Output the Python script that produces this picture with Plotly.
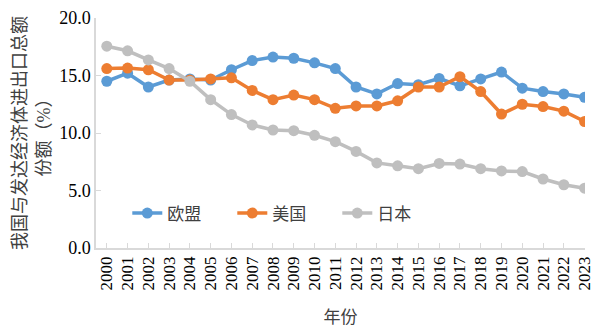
import plotly.graph_objects as go

years = [str(y) for y in range(2000, 2024)]
eu = [14.5, 15.2, 14.0, 14.6, 14.7, 14.6, 15.5, 16.3, 16.6, 16.5, 16.1, 15.6,
      14.0, 13.4, 14.3, 14.2, 14.75, 14.1, 14.7, 15.3, 13.9, 13.6, 13.4, 13.1]
us = [15.6, 15.65, 15.5, 14.6, 14.6, 14.7, 14.8, 13.7, 12.9, 13.3, 12.9, 12.15,
      12.35, 12.35, 12.8, 14.0, 14.0, 14.9, 13.6, 11.65, 12.5, 12.3, 11.9, 11.0]
jp = [17.55, 17.15, 16.35, 15.6, 14.5, 12.9, 11.6, 10.7, 10.26, 10.2, 9.8, 9.25,
      8.4, 7.4, 7.15, 6.9, 7.35, 7.3, 6.9, 6.7, 6.65, 6.0, 5.5, 5.2]
names = ["欧盟", "美国", "日本"]
colors = ["#5B9BD5", "#ED7D31", "#BFBFBF"]
yticks = [0, 5, 10, 15, 20]
ytext = ["0.0", "5.0", "10.0", "15.0", "20.0"]

FONT = "'Liberation Serif', 'Noto Sans CJK SC', serif"
NUMFONT = "'Liberation Serif', 'Times New Roman', serif"

fig = go.Figure()
for name, vals, col in zip(names, [eu, us, jp], colors):
    fig.add_trace(go.Scatter(
        x=years, y=vals, name=name, mode="lines+markers",
        line=dict(color=col, width=3.5),
        marker=dict(color=col, size=11),
    ))

fig.update_layout(
    width=613, height=334,
    margin=dict(l=96, r=28, t=18, b=86),
    paper_bgcolor="white", plot_bgcolor="white",
    font=dict(family=FONT, size=16, color="#000000"),
    showlegend=True,
    legend=dict(orientation="h", x=0.064, y=0.15, xanchor="left", yanchor="middle",
                bgcolor="rgba(0,0,0,0)", font=dict(size=17, color="#404040"),
                entrywidth=60, itemwidth=30),
    xaxis=dict(
        type="category", range=[-0.52, 23.02], automargin=False,
        showline=True, linecolor="#D9D9D9", linewidth=1.5,
        ticks="inside", ticklen=5, tickcolor="#D9D9D9",
        tickangle=-90, showgrid=False, zeroline=False,
        tickfont=dict(family=NUMFONT, size=17, color="#000000"),
        title=dict(text="年份", font=dict(size=17, color="#404040"), standoff=22),
    ),
    yaxis=dict(
        range=[0, 20], tickvals=yticks, ticktext=ytext, automargin=False,
        showline=True, linecolor="#D9D9D9", linewidth=1.5,
        ticks="inside", ticklen=5, tickcolor="#D9D9D9",
        showgrid=False, zeroline=False,
        tickfont=dict(family=NUMFONT, size=18, color="#000000"),
        title=dict(text="我国与发达经济体进出口总额<br>份额（%）",
                   font=dict(size=18, color="#404040"), standoff=4),
    ),
)

fig.write_html("out.html")
